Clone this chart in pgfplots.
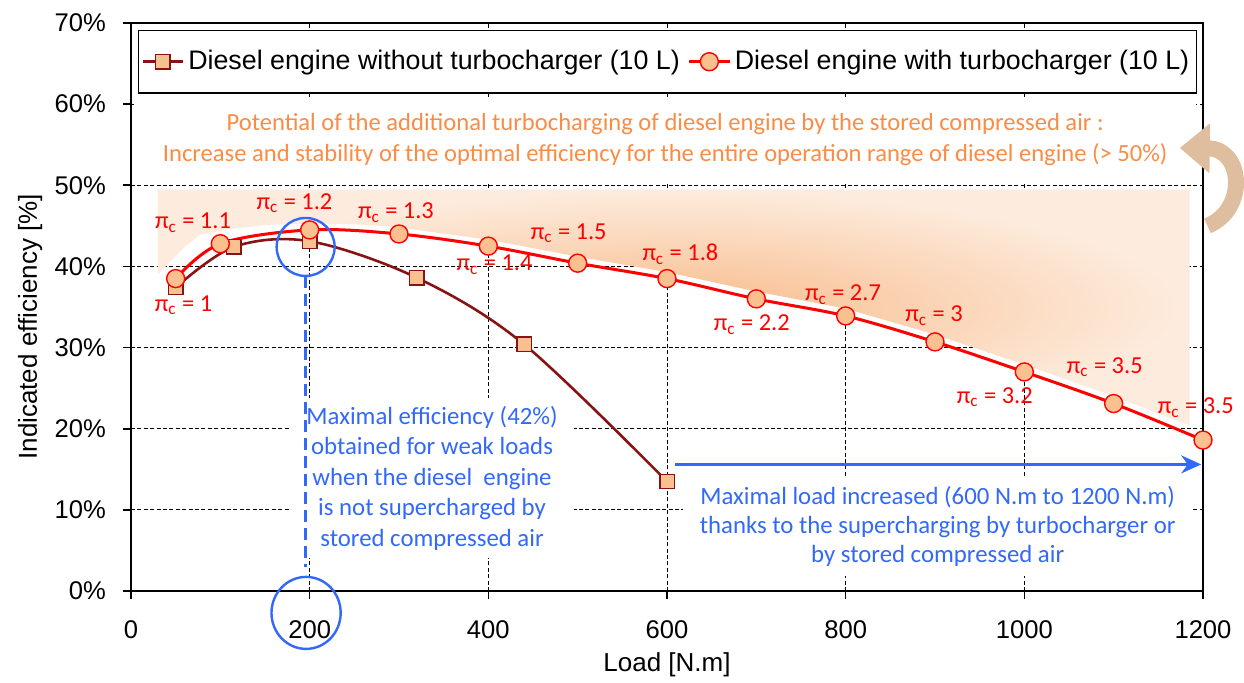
\documentclass[border=0pt]{standalone}
\usepackage{pgfplots}
\pgfplotsset{compat=1.18}
\usepackage{fontspec}
\setmainfont{Liberation Sans}
\newfontfamily\carlito{Carlito}
\usetikzlibrary{arrows.meta}
\definecolor{darkred}{RGB}{135,20,20}
\definecolor{peach}{RGB}{250,192,144}
\definecolor{shadein}{RGB}{248,188,140}
\definecolor{shadeout}{RGB}{253,236,222}
\definecolor{bluetxt}{RGB}{50,105,250}
\definecolor{orangetxt}{RGB}{250,140,70}
\definecolor{arrowtan}{RGB}{222,190,158}

\pgfplotstableread{
x y
50 37.4
115 42.4
200 43.1
320 38.6
440 30.4
600 13.5
}\without

\pgfplotstableread{
x y
50 38.5
100 42.8
200 44.5
300 44.0
400 42.5
500 40.4
600 38.5
700 36.0
800 33.9
900 30.7
1000 27.0
1100 23.1
1200 18.6
}\withturbo

\begin{document}
\begin{tikzpicture}
\begin{axis}[
  at={(0,0)}, anchor=south west,
  scale only axis, width=536pt, height=284pt,
  xmin=0, xmax=1200, ymin=0, ymax=70,
  xtick={0,200,...,1200}, ytick={0,10,...,70},
  yticklabel={\pgfmathprintnumber{\tick}\%},
  /pgf/number format/assume math mode=true,
  /pgf/number format/1000 sep={},
  grid=major,
  major grid style={black, line width=0.5pt, dash pattern=on 2pt off 1.2pt},
  axis line style={black, line width=1.3pt},
  tick align=outside, xtick pos=bottom, ytick pos=left,
  major tick length=4pt, tick style={black, line width=0.8pt},
  ticklabel style={font=\fontsize{12.8}{15}\selectfont},
  yticklabel style={xshift=-5pt},
  xticklabel style={yshift=-7.5pt},
  xlabel={Load [N.m]},
  ylabel={Indicated efficiency [\%]},
  label style={font=\fontsize{13}{15.6}\selectfont},
  xlabel style={at={(axis description cs:0.5,-0.13)}, anchor=center},
  ylabel style={at={(axis description cs:-0.094,0.465)}, anchor=center},
  clip=false,
  legend columns=2,
  legend cell align=left,
  legend style={at={(axis description cs:0.0065,0.988)}, anchor=north west,
    draw=black, line width=0.7pt, fill=white, inner xsep=1.5pt, inner ysep=8pt,
    font=\fontsize{13.4}{16}\selectfont,
    /tikz/every even column/.append style={column sep=2pt}},
  legend image code/.code={\draw[mark repeat=2,mark phase=2,#1] plot coordinates {(0pt,0pt) (10pt,0pt) (20pt,0pt)};},
]
% shaded potential area
\addplot[draw=none, inner color=shadein, outer color=shadeout, forget plot] coordinates {
(30,49.5) (1185,49.5) (1185,20.4) (1100,24.0) (1000,27.9) (900,31.6) (800,34.8)
(700,36.9) (600,39.3) (500,41.2) (400,43.3) (300,44.8) (250,45.2) (200,45.3)
(150,45.1) (111,44.6) (77,43.9) (60,42.4) (30,39.0)} -- cycle;

\addplot[color=darkred, line width=1.3pt, smooth, tension=0.55, mark=square*, mark size=3.6pt,
  mark options={fill=peach, draw=darkred, line width=0.7pt, solid}] table[x=x,y=y] {\without};
\addlegendentry{Diesel engine without turbocharger (10 L)}
\addplot[color=red, line width=1.5pt, smooth, tension=0.55, mark=*, mark size=4.5pt,
  mark options={fill=peach, draw=red, line width=0.7pt, solid}] table[x=x,y=y] {\withturbo};
\addlegendentry{Diesel engine with turbocharger (10 L)}

% pi_c labels
\begin{scope}[every node/.style={text=red, font=\carlito\fontsize{12.2}{14}\selectfont, inner sep=0pt}]
\node at (axis cs:58.8,35.2) {π\textsubscript{c} = 1};
\node at (axis cs:69.4,45.4) {π\textsubscript{c} = 1.1};
\node at (axis cs:183,47.8) {π\textsubscript{c} = 1.2};
\node at (axis cs:296.6,46.6) {π\textsubscript{c} = 1.3};
\node at (axis cs:407,40.2) {π\textsubscript{c} = 1.4};
\node at (axis cs:490,44.1) {π\textsubscript{c} = 1.5};
\node at (axis cs:615,41.5) {π\textsubscript{c} = 1.8};
\node at (axis cs:695,32.8) {π\textsubscript{c} = 2.2};
\node at (axis cs:797,36.5) {π\textsubscript{c} = 2.7};
\node at (axis cs:899,33.9) {π\textsubscript{c} = 3};
\node at (axis cs:967,23.9) {π\textsubscript{c} = 3.2};
\node at (axis cs:1090,27.6) {π\textsubscript{c} = 3.5};
\node at (axis cs:1192,22.6) {π\textsubscript{c} = 3.5};
\end{scope}

% orange text
\node[fill=white, inner sep=0pt, minimum width=531pt, minimum height=43pt, align=center,
  text=orangetxt, font=\carlito\fontsize{12.3}{15.5}\selectfont] at (axis cs:598,55.6)
  {Potential of the additional turbocharging of diesel engine by the stored compressed air :\\
   Increase and stability of the optimal efficiency for the entire operation range of diesel engine (> 50\%)};

% blue text 1
\node[fill=white, inner sep=0pt, minimum width=142pt, minimum height=80pt, align=center,
  text=bluetxt, font=\carlito\fontsize{12.4}{15.25}\selectfont] at (axis cs:337,13.9)
  {Maximal efficiency (42\%)\\obtained for weak loads\\when the diesel\ \ engine\\is not supercharged by\\stored compressed air};
% blue text 2
\node[fill=white, inner sep=0pt, minimum width=255pt, minimum height=50pt, align=center,
  text=bluetxt, font=\carlito\fontsize{12.4}{14.5}\selectfont] at (axis cs:903,7.95)
  {Maximal load increased (600 N.m to 1200 N.m)\\thanks to the supercharging by turbocharger or\\by stored compressed air};

% blue annotations
\draw[bluetxt, line width=1.5pt, dash pattern=on 6pt off 3pt] (axis cs:195.5,38.8) -- (axis cs:195.5,3);
\draw[bluetxt, line width=1.2pt] (axis cs:195.5,42.4) circle [radius=14.5pt];
\draw[bluetxt, line width=1.2pt] (axis cs:196,-2.7) ellipse [x radius=17.3pt, y radius=18pt];
\draw[bluetxt, line width=1.5pt, -{Stealth[length=10pt, width=9pt]}] (axis cs:609,15.6) -- (axis cs:1198,15.6);

% curved arrow
\draw[arrowtan, line width=8pt, -{Triangle[length=15pt, width=24pt]}]
  (axis cs:1205,45.0) .. controls (axis cs:1250,47) and (axis cs:1245,54.5) .. (axis cs:1174,54.6);
\end{axis}
\pgfresetboundingbox
\path[use as bounding box] (-65.5pt,-46pt) rectangle (556.5pt,295.5pt);
\end{tikzpicture}
\end{document}
